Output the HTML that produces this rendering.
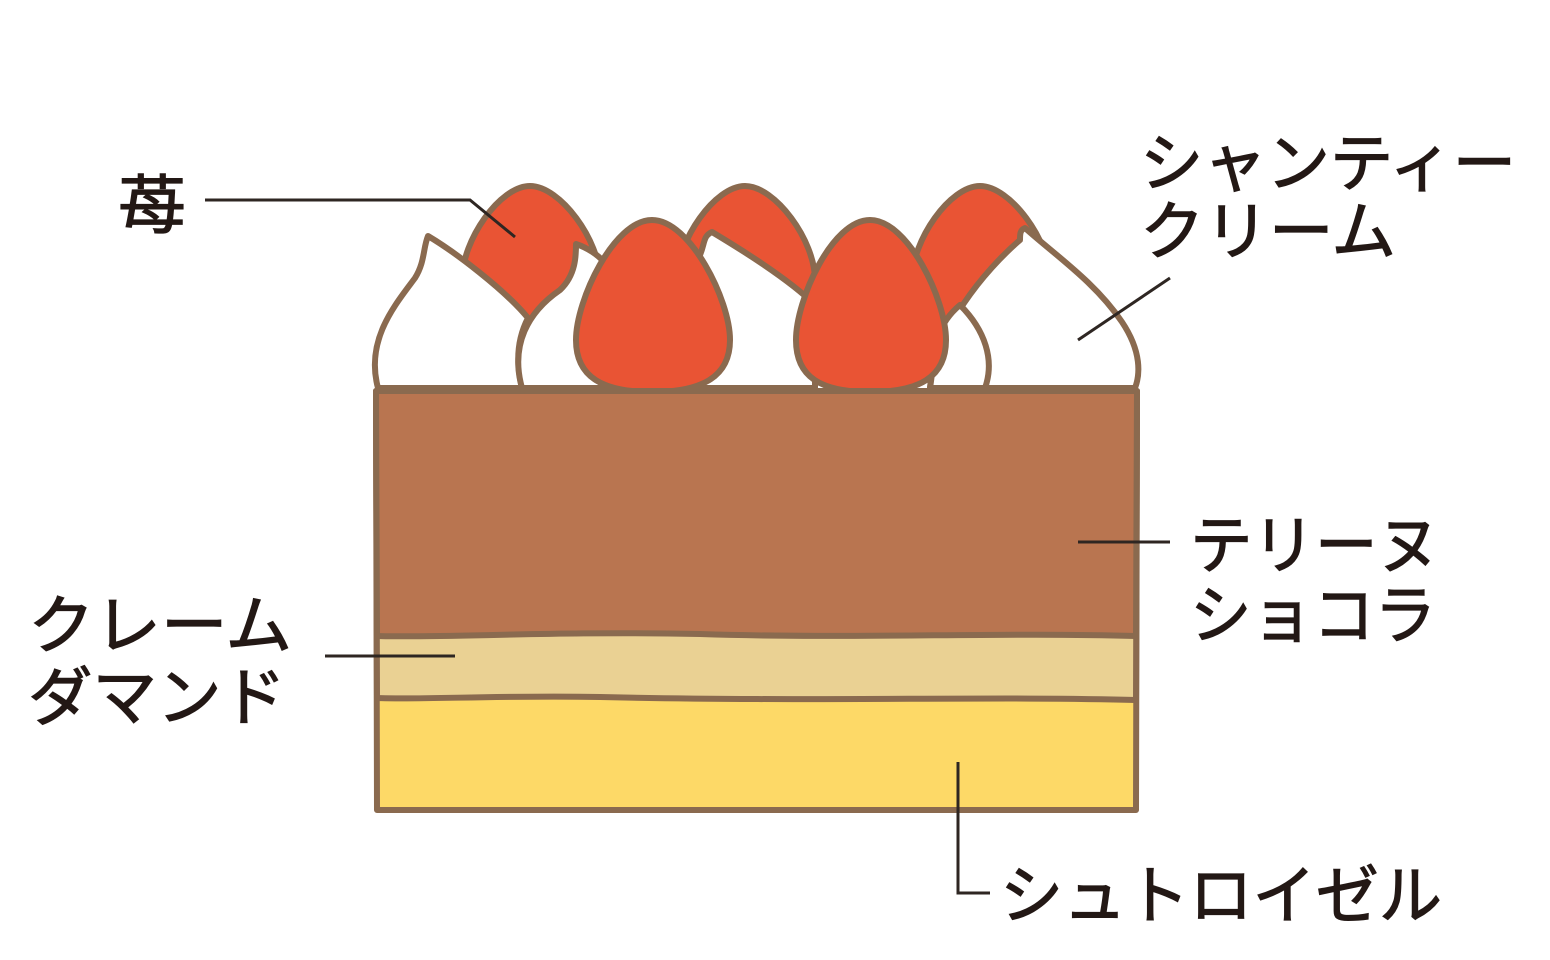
<!DOCTYPE html>
<html><head><meta charset="utf-8"><style>
html,body{margin:0;padding:0;background:#fff;width:1550px;height:960px;overflow:hidden}
svg{display:block}
text{font-family:"Liberation Sans","Noto Sans CJK JP",sans-serif;fill:#231815;stroke:#231815;stroke-width:1.2;font-size:64px}
</style></head><body>
<svg width="1550" height="960" viewBox="0 0 1550 960">
<g stroke="#8a6a4f" stroke-width="6" stroke-linejoin="round">
<path d="M530,186 C560,186 600,240 600,280 C600,330 560,345 530,345 C500,345 462,330 462,280 C462,240 500,186 530,186 Z" fill="#e95434"/>
<path d="M745,186 C775,186 815,240 815,280 C815,330 775,345 745,345 C715,345 677,330 677,280 C677,240 715,186 745,186 Z" fill="#e95434"/>
<path d="M980,186 C1010,186 1050,240 1050,280 C1050,330 1010,345 980,345 C950,345 912,330 912,280 C912,240 950,186 980,186 Z" fill="#e95434"/>
<path d="M378,388 C365,340 395,305 415,278 C425,262 423,248 428,236 C455,252 505,290 528,318 C514,345 518,372 522,388 Z" fill="#fff"/>
<path d="M522,388 C510,345 528,312 560,290 C576,275 576,255 576,244 C588,248 598,255 604,262 L604,388 Z" fill="#fff"/>
<path d="M700,388 L700,255 C705,243 703,236 712,232 C742,250 790,280 815,305 L815,388 Z" fill="#fff"/>
<path d="M930,388 C935,330 985,270 1020,240 C1020,234 1020,230 1025,228 C1055,255 1095,282 1122,322 C1142,352 1140,375 1135,388 Z" fill="#fff"/>
<path d="M930,388 C935,360 930,330 960,305 C985,330 995,360 985,388 Z" fill="#fff"/>
<path d="M652,220 C690,220 730,300 730,340 C730,378 700,392 652,392 C604,392 576,378 576,340 C576,300 614,220 652,220 Z" fill="#e95434"/>
<path d="M870,220 C908,220 946,300 946,340 C946,378 918,392 870,392 C822,392 796,378 796,340 C796,300 832,220 870,220 Z" fill="#e95434"/>
<path d="M376,391 L1137,391 L1136,810 L377,810 Z" fill="#fdd967"/>
<path d="M376,391 L1137,391 L1136,700 C1000,696 800,702 600,697 C500,695 420,700 377,698 Z" fill="#ead193"/>
<path d="M376,391 L1137,391 L1136,636 C1000,632 850,639 700,634 C550,631 450,638 377,636 Z" fill="#b97550"/>
</g>
<g stroke="#2e2622" stroke-width="3" fill="none">
<polyline points="205,200 470,200 515,237"/>
<line x1="1170" y1="278" x2="1078" y2="340"/>
<line x1="1078" y1="542" x2="1170" y2="542"/>
<line x1="325" y1="656" x2="455" y2="656"/>
<polyline points="958,762 958,893 990,893"/>
</g>
<text x="118" y="228" textLength="68" lengthAdjust="spacingAndGlyphs">苺</text>
<text x="1140" y="186" textLength="376" lengthAdjust="spacingAndGlyphs">シャンティー</text>
<text x="1140" y="254" textLength="256" lengthAdjust="spacingAndGlyphs">クリーム</text>
<text x="1190" y="568" textLength="250" lengthAdjust="spacingAndGlyphs">テリーヌ</text>
<text x="1190" y="638" textLength="246" lengthAdjust="spacingAndGlyphs">ショコラ</text>
<text x="28" y="648" textLength="264" lengthAdjust="spacingAndGlyphs">クレーム</text>
<text x="28" y="720" textLength="258" lengthAdjust="spacingAndGlyphs">ダマンド</text>
<text x="1000" y="918" textLength="442" lengthAdjust="spacingAndGlyphs">シュトロイゼル</text>
</svg>
</body></html>
